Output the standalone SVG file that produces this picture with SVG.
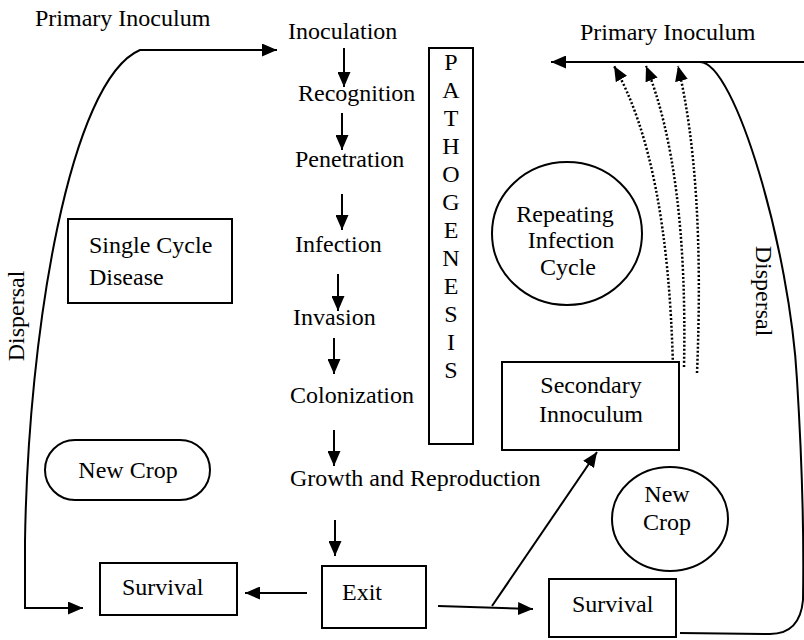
<svg xmlns="http://www.w3.org/2000/svg" width="804" height="640" viewBox="0 0 804 640">
<defs>
<style>
text{font-family:"Liberation Serif","Times New Roman",serif;font-size:24px;fill:#000}
.mid{text-anchor:middle}
.box{fill:#fff;stroke:#000;stroke-width:2}
.ln{fill:none;stroke:#000;stroke-width:2}
.dot{fill:none;stroke:#000;stroke-width:2.5;stroke-dasharray:2 2}
</style>
<marker id="ah" viewBox="0 0 15 13" refX="15" refY="6.5" markerWidth="15" markerHeight="13" markerUnits="userSpaceOnUse" orient="auto"><path d="M0,0 L15,6.5 L0,13 z" fill="#000"/></marker>
</defs>
<rect width="804" height="640" fill="#fff"/>
<g id="connectors">
<path class="ln" d="M25 540 V608 H83" marker-end="url(#ah)"/>
<path class="ln" d="M25 542 C28 330 70 80 140 50 H277" marker-end="url(#ah)"/>
<path class="ln" d="M344 48 V87" marker-end="url(#ah)"/>
<path class="ln" d="M342 113 V150" marker-end="url(#ah)"/>
<path class="ln" d="M342 194 V230" marker-end="url(#ah)"/>
<path class="ln" d="M338 274 V311" marker-end="url(#ah)"/>
<path class="ln" d="M334 338 V374" marker-end="url(#ah)"/>
<path class="ln" d="M334 430 V466" marker-end="url(#ah)"/>
<path class="ln" d="M335 520 V556" marker-end="url(#ah)"/>
<path class="ln" d="M307 593 H245" marker-end="url(#ah)"/>
<path class="ln" d="M438 606 L533 609" marker-end="url(#ah)"/>
<path class="ln" d="M492 606 L597 452" marker-end="url(#ah)"/>
<path class="ln" d="M804 62 H551" marker-end="url(#ah)"/>
<path class="ln" d="M680 633 L770 634 Q800 634 803 600 C804 540 802 460 797 380 C790 250 735 62 700 62"/>
<path class="dot" d="M673 368 Q668 160 614 66" marker-end="url(#ah)"/>
<path class="dot" d="M684 367 Q688 170 646 66" marker-end="url(#ah)"/>
<path class="dot" d="M697 373 Q705 180 678 66" marker-end="url(#ah)"/>
</g>
<g id="labels">
<text x="35" y="26">Primary Inoculum</text>
<text x="580" y="40">Primary Inoculum</text>
<text transform="translate(24 316) rotate(-90)" class="mid">Dispersal</text>
<text transform="translate(756 291) rotate(90)" class="mid">Dispersal</text>
</g>
<g id="stages">
<text x="288" y="39">Inoculation</text>
<text x="298" y="101">Recognition</text>
<text x="295" y="167">Penetration</text>
<text x="295" y="252">Infection</text>
<text x="293" y="325">Invasion</text>
<text x="290" y="403">Colonization</text>
<text x="290" y="486">Growth and Reproduction</text>
</g>
<g id="pathogenesis">
<rect class="box" x="429" y="48" width="44" height="396"/>
<text class="mid" x="451" y="70">P</text>
<text class="mid" x="451" y="98">A</text>
<text class="mid" x="451" y="126">T</text>
<text class="mid" x="451" y="154">H</text>
<text class="mid" x="451" y="182">O</text>
<text class="mid" x="451" y="210">G</text>
<text class="mid" x="451" y="238">E</text>
<text class="mid" x="451" y="266">N</text>
<text class="mid" x="451" y="294">E</text>
<text class="mid" x="451" y="322">S</text>
<text class="mid" x="451" y="350">I</text>
<text class="mid" x="451" y="378">S</text>
</g>
<g id="single-cycle">
<rect class="box" x="68" y="219" width="164" height="84"/>
<text x="89" y="253">Single Cycle</text>
<text x="89" y="285">Disease</text>
</g>
<g id="new-crop-left">
<rect class="box" x="45" y="440" width="165" height="60" rx="30"/>
<text class="mid" x="128" y="478">New Crop</text>
</g>
<g id="repeating">
<ellipse class="box" cx="567" cy="233.5" rx="75" ry="71.5"/>
<text class="mid" x="565" y="222">Repeating</text>
<text class="mid" x="571" y="248">Infection</text>
<text class="mid" x="568" y="275">Cycle</text>
</g>
<g id="secondary">
<rect class="box" x="502" y="362" width="177" height="88"/>
<text class="mid" x="591" y="393">Secondary</text>
<text class="mid" x="591" y="422">Innoculum</text>
</g>
<g id="new-crop-right">
<ellipse class="box" cx="670" cy="519" rx="58" ry="52"/>
<text class="mid" x="667" y="502">New</text>
<text class="mid" x="667" y="530">Crop</text>
</g>
<g id="survival-left">
<rect class="box" x="100" y="563" width="137" height="52"/>
<text x="122" y="595">Survival</text>
</g>
<g id="exit">
<rect class="box" x="322" y="566" width="104" height="62"/>
<text x="342" y="600">Exit</text>
</g>
<g id="survival-right">
<rect class="box" x="549" y="579" width="127" height="58"/>
<text x="572" y="612">Survival</text>
</g>
</svg>
